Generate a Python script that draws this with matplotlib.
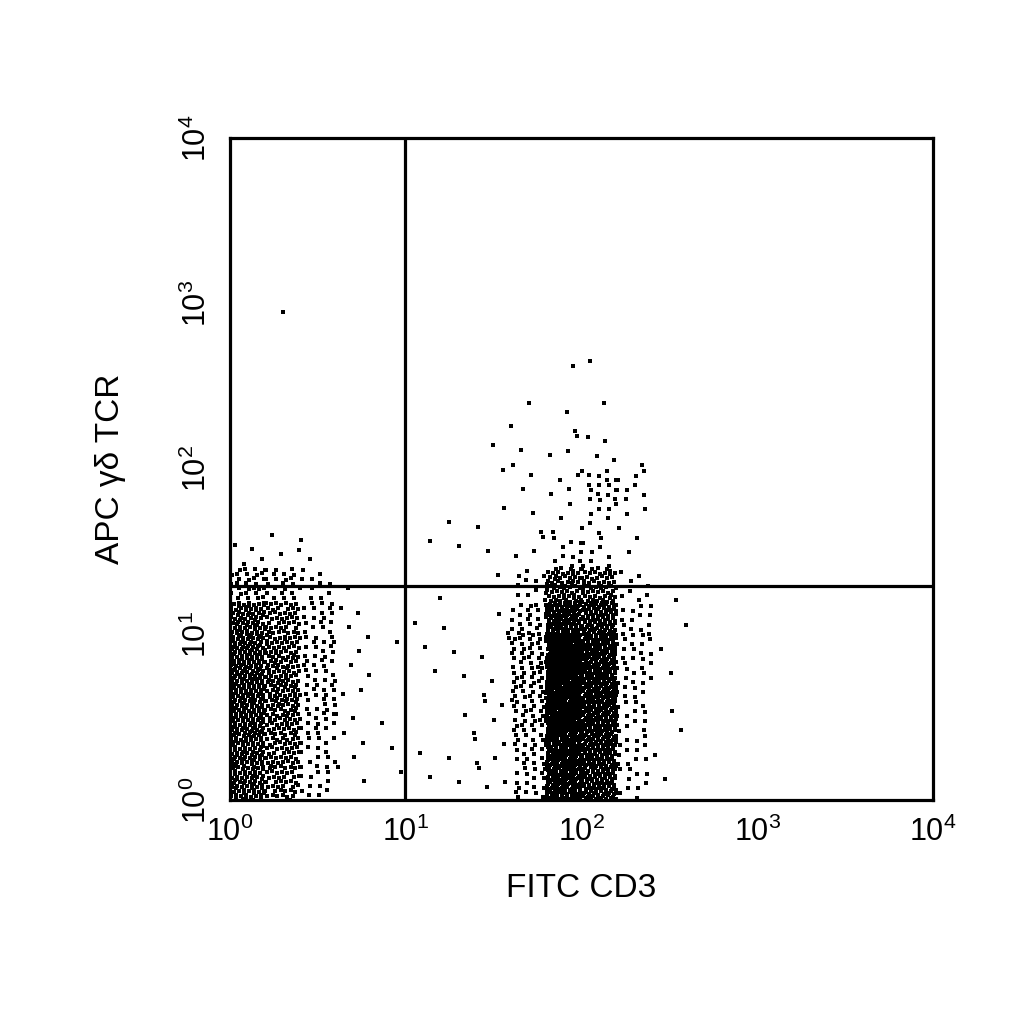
import matplotlib
matplotlib.use("Agg")
import matplotlib.pyplot as plt
import numpy as np

plt.rcParams['font.family'] = ['Liberation Sans', 'DejaVu Sans']

# Event counts per cell.
# Cells are 0.2 decade wide; rows go from top (log y 2.2-2.4) down to (0.0-0.2)
X_EDGES = [0.0, 0.2, 0.4, 0.6, 0.8, 1.0, 1.2, 1.4, 1.6, 1.8, 2.0, 2.2, 2.4, 2.6]
Y_EDGES = [2.4, 2.2, 2.0, 1.8, 1.6, 1.4, 1.2, 1.0, 0.8, 0.6, 0.4, 0.2, 0.0]
COUNTS = [
    [0, 0, 0, 0, 0, 0, 0, 0, 1, 2, 1, 0, 0],
    [0, 0, 0, 0, 0, 0, 0, 1, 2, 3, 4, 1, 0],
    [0, 0, 0, 0, 0, 0, 0, 1, 2, 4, 16, 8, 0],
    [0, 0, 0, 0, 0, 0, 1, 2, 2, 3, 8, 3, 0],
    [4, 3, 2, 0, 0, 1, 1, 1, 3, 10, 8, 2, 0],
    [30, 22, 10, 1, 0, 1, 0, 1, 10, 60, 55, 8, 1],
    [70, 45, 18, 3, 0, 1, 1, 2, 22, 120, 100, 14, 1],
    [85, 55, 20, 3, 1, 1, 1, 2, 28, 150, 120, 16, 1],
    [90, 60, 20, 3, 0, 1, 1, 2, 28, 155, 125, 16, 1],
    [85, 55, 18, 3, 1, 0, 2, 3, 25, 150, 115, 14, 2],
    [75, 48, 15, 2, 1, 1, 2, 3, 20, 140, 110, 12, 1],
    [70, 42, 12, 2, 1, 1, 1, 3, 18, 130, 100, 10, 1],
]
# isolated events (log10 x, log10 y)
OUTLIERS_X = [0.3, 1.95, 2.05, 1.7]
OUTLIERS_Y = [2.95, 2.62, 2.65, 2.4]

# quadrant gates
GATE_X = 10 ** 0.995
GATE_Y = 10 ** 1.295

# place events inside each cell on a low-discrepancy pattern
a1, a2 = 0.7548776662, 0.5698402910
xs, ys = [], []
for r, row in enumerate(COUNTS):
    y0, y1 = Y_EDGES[r + 1], Y_EDGES[r]
    for c, n in enumerate(row):
        x0, x1 = X_EDGES[c], X_EDGES[c + 1]
        for k in range(n):
            u = (0.5 + a1 * (k + 7 * r + 13 * c)) % 1
            v = (0.5 + a2 * (k + 11 * r + 5 * c)) % 1
            xs.append(x0 + u * (x1 - x0))
            ys.append(y0 + v * (y1 - y0))
xs = np.array(xs + OUTLIERS_X)
ys = np.array(ys + OUTLIERS_Y)

fig = plt.figure(figsize=(10.24, 10.24), dpi=100)
ax = fig.add_axes([0.2246, 0.2188, 0.6865, 0.6465])
ax.plot(10 ** xs, 10 ** ys, 's', color='black', ms=2.3, mew=0, zorder=2)
ax.set_xscale('log')
ax.set_yscale('log')
ax.set_xlim(1, 1e4)
ax.set_ylim(1, 1e4)
ax.set_xticks([1, 10, 100, 1000, 10000])
ax.set_yticks([1, 10, 100, 1000, 10000])
ax.minorticks_off()
ax.tick_params(axis='x', length=0, labelsize=22, pad=12)
ax.tick_params(axis='y', length=0, labelsize=22, pad=12)
for lab in ax.get_yticklabels():
    lab.set_rotation(90)
    lab.set_va('center')
for sp in ax.spines.values():
    sp.set_linewidth(2.3)
ax.axvline(GATE_X, color='black', lw=2.3, zorder=3)
ax.axhline(GATE_Y, color='black', lw=2.3, zorder=3)
ax.set_xlabel('FITC CD3', fontsize=24, labelpad=18)
ax.set_ylabel('APC γδ TCR', fontsize=24, labelpad=40)

fig.savefig('out.png', dpi=100)
